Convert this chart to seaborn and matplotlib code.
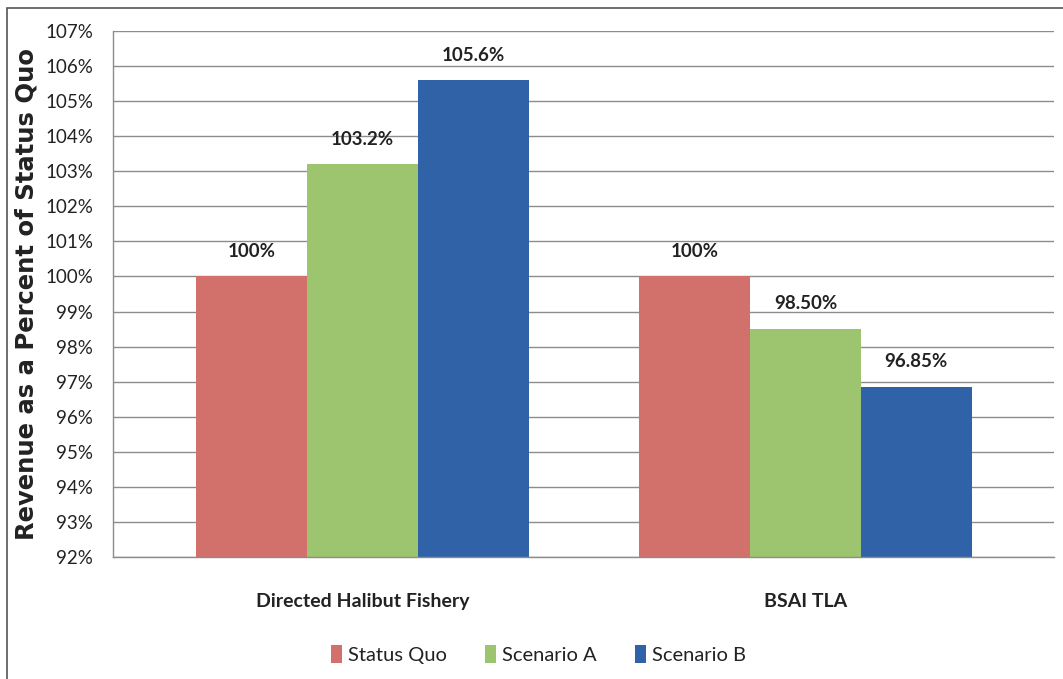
import matplotlib.pyplot as plt
import matplotlib.patches as mpatches
import seaborn as sns
import pandas as pd

# Dados
categorias = ['Directed Halibut Fishery', 'BSAI TLA']
cenarios = ['Status Quo', 'Scenario A', 'Scenario B']
status_quo = [100.0, 100.0]
scenario_a = [103.2, 98.50]
scenario_b = [105.6, 96.85]
rotulos = {
    'Status Quo': ['100%', '100%'],
    'Scenario A': ['103.2%', '98.50%'],
    'Scenario B': ['105.6%', '96.85%'],
}
ticks_y = list(range(92, 108))
cores = ['#D2706C', '#9DC46F', '#2F62A6']

df = pd.DataFrame({
    'categoria': categorias * 3,
    'cenario': [c for c in cenarios for _ in categorias],
    'valor': status_quo + scenario_a + scenario_b,
})

sns.set_theme(style='white')
plt.rcParams['font.family'] = ['Lato', 'DejaVu Sans']

fig = plt.figure(figsize=(10.63, 6.79), dpi=100)
ax = fig.add_axes([0.106, 0.180, 0.886, 0.774])

sns.barplot(data=df, x='categoria', y='valor', hue='cenario', hue_order=cenarios,
            palette=cores, saturation=1, width=0.75, linewidth=0, ax=ax, legend=True)

# 1. Rótulos das barras
for cont, nome in zip(ax.containers, cenarios):
    ax.bar_label(cont, labels=rotulos[nome], padding=12, fontsize=13.5,
                 fontweight='bold', color='#222222')

# 2. Eixos e grade
ax.set_xlim(-0.564, 1.562)
ax.set_ylim(92, 107)
ax.set_yticks(ticks_y)
ax.set_yticklabels([f'{t}%' for t in ticks_y], fontsize=13.5, color='#222222')
ax.yaxis.grid(True, color='#8c8c8c', linewidth=1)
ax.set_axisbelow(True)
ax.tick_params(axis='y', length=6, color='#8c8c8c', width=1, pad=8)
ax.tick_params(axis='x', length=0, pad=26)
for lbl in ax.get_xticklabels():
    lbl.set_fontweight('bold')
    lbl.set_fontsize(14)
    lbl.set_color('#222222')
ax.set_xlabel('')
ax.set_ylabel('Revenue as a Percent of Status Quo', fontsize=17.5, fontweight='bold',
              family=['DejaVu Sans'], color='#222222', labelpad=5)
for lado in ['top', 'right']:
    ax.spines[lado].set_visible(False)
for lado in ['left', 'bottom']:
    ax.spines[lado].set_color('#8c8c8c')
    ax.spines[lado].set_linewidth(1)

# 3. Legenda
leg = ax.legend(loc='upper center', bbox_to_anchor=(0.452, -0.133), ncol=3, frameon=False,
                fontsize=14.5, handlelength=0.55, handleheight=1.0, handletextpad=0.3,
                columnspacing=1.9)
for txt in leg.get_texts():
    txt.set_color('#222222')

# 4. Moldura externa
fig.patches.append(mpatches.Rectangle((7 / 1063, -0.05), 1.2, 1 - 8 / 679 + 0.05,
                                      transform=fig.transFigure, fill=False,
                                      edgecolor='#555555', linewidth=1.2))

fig.savefig('out.png', dpi=100)
plt.close(fig)
